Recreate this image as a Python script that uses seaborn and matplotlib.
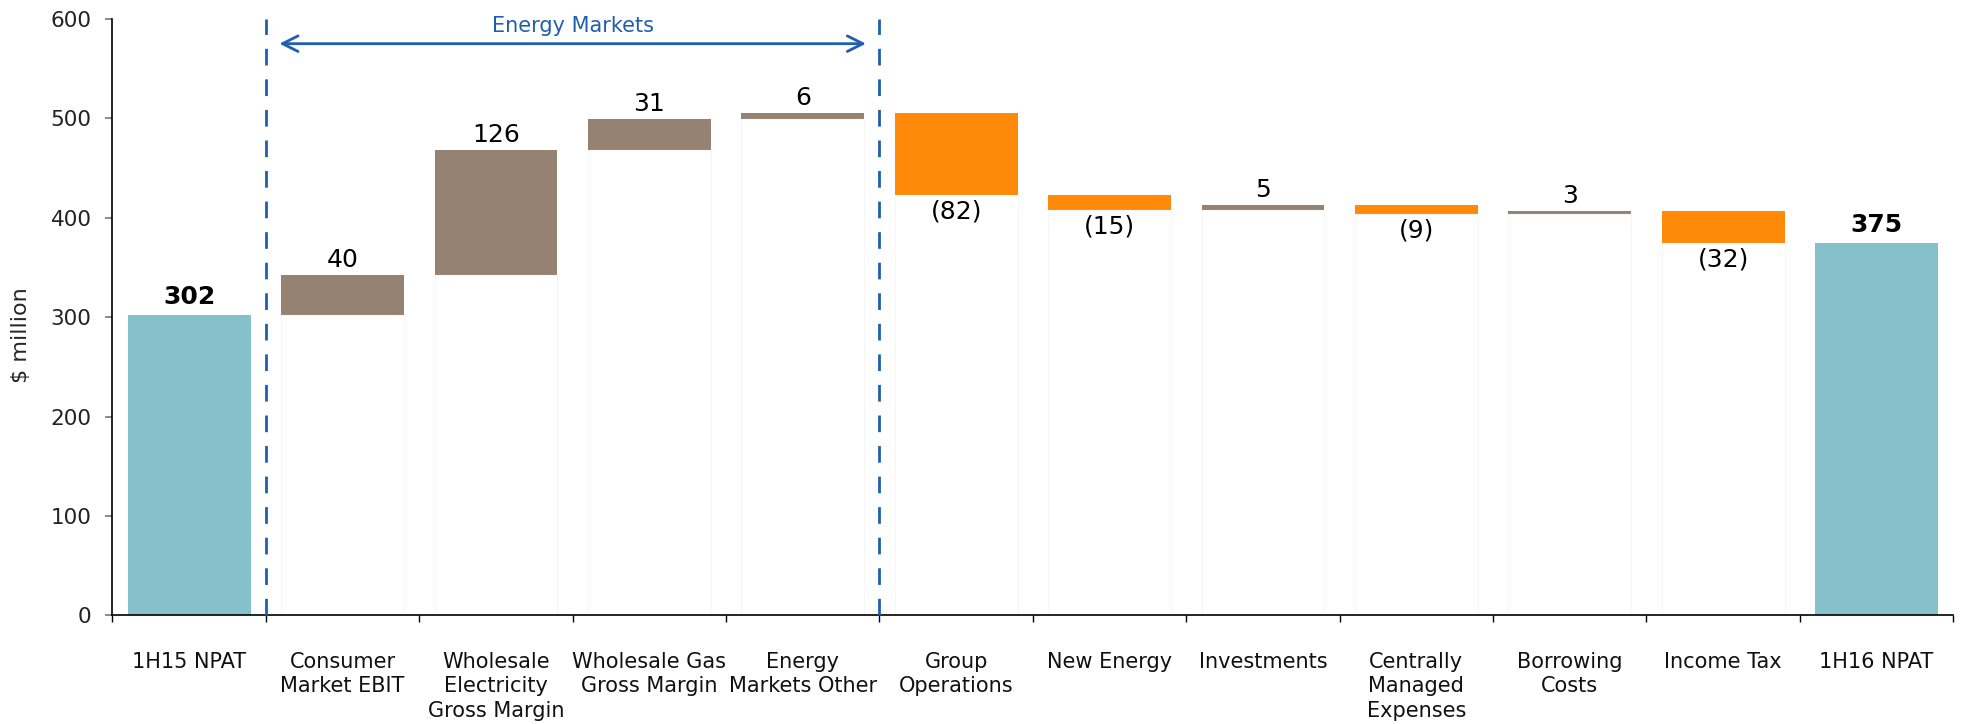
import numpy as np
import pandas as pd
import matplotlib
matplotlib.use("Agg")
import matplotlib.pyplot as plt
import seaborn as sns

# Waterfall: 1H15 NPAT -> 1H16 NPAT ($ million)
categories = [
    "1H15 NPAT", "Consumer\nMarket EBIT", "Wholesale\nElectricity\nGross Margin",
    "Wholesale Gas\nGross Margin", "Energy\nMarkets Other", "Group\nOperations",
    "New Energy", "Investments", "Centrally\nManaged\nExpenses", "Borrowing\nCosts",
    "Income Tax", "1H16 NPAT",
]
values = [302, 40, 126, 31, 6, -82, -15, 5, -9, 3, -32, 375]
is_total = [True, False, False, False, False, False, False, False, False, False, False, True]

c_total = "#86C1CB"
c_up = "#968272"
c_down = "#FF8A0A"
c_blue = "#1F5FAF"

# build bottoms / tops
running = 0
bases, tops, colors = [], [], []
for v, tot in zip(values, is_total):
    if tot:
        bases.append(0)
        tops.append(v)
        colors.append(c_total)
        running = v
    else:
        start, end = running, running + v
        bases.append(min(start, end))
        tops.append(max(start, end))
        colors.append(c_up if v > 0 else c_down)
        running = end

df = pd.DataFrame({"cat": categories, "top": tops, "base": bases})

sns.set_style("white")
plt.rcParams["font.family"] = ["DejaVu Sans"]

fig, ax = plt.subplots(figsize=(19.73, 7.24), dpi=100)
fig.subplots_adjust(left=0.057, right=0.990, top=0.974, bottom=0.150)

# coloured full-height bars, then white "invisible" base bars on top
sns.barplot(data=df, x="cat", y="top", hue="cat", palette=colors, legend=False,
            width=0.8, ax=ax, saturation=1, edgecolor="none", zorder=1)
sns.barplot(data=df, x="cat", y="base", color="white", width=0.8, ax=ax,
            saturation=1, edgecolor="#f7f7f7", linewidth=0.8, zorder=1.5)

# data labels
for i, (v, tot) in enumerate(zip(values, is_total)):
    if tot:
        ax.text(i, tops[i] + 11, f"{v}", ha="center", va="baseline",
                fontsize=18, fontweight="bold", color="black", zorder=5)
    elif v > 0:
        ax.text(i, tops[i] + 8, f"{v}", ha="center", va="baseline",
                fontsize=18, color="black", zorder=5)
    else:
        ax.text(i, bases[i] - 5, f"({abs(v)})", ha="center", va="top",
                fontsize=18, color="black", zorder=5)

# Energy Markets bracket
ax.vlines([0.5, 4.5], 0, 600, colors=c_blue, linestyles=(0, (6, 5)),
          linewidth=2, zorder=6, clip_on=False)
ax.annotate("", xy=(4.43, 575), xytext=(0.57, 575),
            arrowprops=dict(arrowstyle="<->", color=c_blue, lw=2,
                            mutation_scale=28), zorder=6)
ax.text(2.5, 593, "Energy Markets", ha="center", va="center",
        fontsize=15, color=c_blue, zorder=6)

ax.set_xlim(-0.5, 11.5)
ax.set_ylim(0, 600)
ax.set_yticks(range(0, 601, 100))
ax.set_ylabel("$ million", fontsize=16)
ax.yaxis.set_label_coords(-0.044, 0.47)
ax.set_xlabel("")

# labels at centres, tick marks at boundaries
ax.set_xticks(range(len(categories)))
ax.set_xticklabels(categories, fontsize=15, color="#111111", linespacing=1.3)
ax.tick_params(axis="x", which="major", length=0, pad=26)
ax.set_xticks(np.arange(-0.5, len(categories)), minor=True)
ax.tick_params(axis="x", which="minor", length=5, width=1, color="black",
               direction="out", bottom=True)
ax.tick_params(axis="y", length=5, width=1.2, color="#777777", direction="out",
               left=True, labelsize=15.5, labelcolor="#222222", pad=10)

for s in ["top", "right"]:
    ax.spines[s].set_visible(False)
for s in ["left", "bottom"]:
    ax.spines[s].set_color("black")
    ax.spines[s].set_linewidth(1.2)
    ax.spines[s].set_zorder(4)
ax.grid(False)

fig.savefig("out.png", dpi=100)
